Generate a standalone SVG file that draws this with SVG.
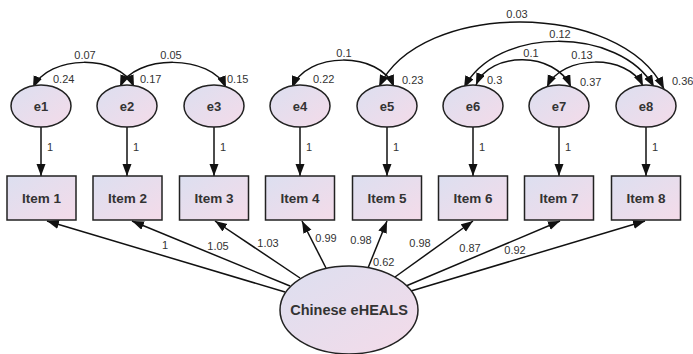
<svg xmlns="http://www.w3.org/2000/svg" width="693" height="354" viewBox="0 0 693 354">
<defs>
<linearGradient id="fillG" x1="0" y1="0" x2="1" y2="1">
<stop offset="0" stop-color="#dcdff0"/>
<stop offset="1" stop-color="#f4dbe9"/>
</linearGradient>
<marker id="ah" markerUnits="userSpaceOnUse" markerWidth="13" markerHeight="10" refX="12" refY="4.5" orient="auto-start-reverse">
<path d="M0,0 L12,4.5 L0,9 z" fill="#111"/>
</marker>
<style>
.node{fill:url(#fillG);stroke:#222;stroke-width:1.5}
.lbl{font-family:"Liberation Sans",Arial,sans-serif;font-weight:bold;fill:#333;text-anchor:middle}
.num{font-family:"Liberation Sans",Arial,sans-serif;font-size:11px;fill:#333}
.c{text-anchor:middle}
.edge{fill:none;stroke:#111;stroke-width:1.5;marker-end:url(#ah)}
.cov{fill:none;stroke:#111;stroke-width:1.5;marker-start:url(#ah);marker-end:url(#ah)}
</style>
</defs>
<rect width="693" height="354" fill="#fff"/>
<g id="connectors">
<line class="edge" x1="41" y1="127" x2="41" y2="176"/>
<line class="edge" x1="127" y1="127" x2="127" y2="176"/>
<line class="edge" x1="214" y1="127" x2="214" y2="176"/>
<line class="edge" x1="300" y1="127" x2="300" y2="176"/>
<line class="edge" x1="387" y1="127" x2="387" y2="176"/>
<line class="edge" x1="473" y1="127" x2="473" y2="176"/>
<line class="edge" x1="559" y1="127" x2="559" y2="176"/>
<line class="edge" x1="646" y1="127" x2="646" y2="176"/>
<line class="edge" x1="285" y1="292" x2="47" y2="221"/>
<line class="edge" x1="290" y1="286" x2="132" y2="221"/>
<line class="edge" x1="300" y1="278" x2="215" y2="221"/>
<line class="edge" x1="326" y1="268" x2="302" y2="221"/>
<line class="edge" x1="368" y1="268" x2="387" y2="221"/>
<line class="edge" x1="395" y1="277" x2="473" y2="221"/>
<line class="edge" x1="406" y1="286" x2="560" y2="221"/>
<line class="edge" x1="411" y1="291" x2="645" y2="221"/>
<path class="cov" d="M33,88 C48,54 120,54 134,87"/>
<path class="cov" d="M120,87 C134,54 212,54 226,88"/>
<path class="cov" d="M292,88 C306,51 380,51 394,87"/>
<path class="cov" d="M379,87 C420,0 620,0 664,89"/>
<path class="cov" d="M464,88 C495,26 620,26 654,87"/>
<path class="cov" d="M476,85 C490,51 555,51 571,87"/>
<path class="cov" d="M547,87 C562,54 628,54 643,86"/>
</g>
<g id="labels">
<text class="num" x="47" y="151">1</text>
<text class="num" x="133" y="151">1</text>
<text class="num" x="220" y="151">1</text>
<text class="num" x="306" y="151">1</text>
<text class="num" x="393" y="151">1</text>
<text class="num" x="479" y="151">1</text>
<text class="num" x="565" y="151">1</text>
<text class="num" x="652" y="151">1</text>
<text class="num c" x="85" y="59">0.07</text>
<text class="num c" x="171" y="59">0.05</text>
<text class="num c" x="344" y="57">0.1</text>
<text class="num c" x="517" y="18">0.03</text>
<text class="num c" x="560" y="38">0.12</text>
<text class="num c" x="531" y="57">0.1</text>
<text class="num c" x="582" y="59">0.13</text>
<text class="num" x="53" y="83">0.24</text>
<text class="num" x="140" y="83">0.17</text>
<text class="num" x="227" y="83">0.15</text>
<text class="num" x="313" y="83">0.22</text>
<text class="num" x="402" y="84">0.23</text>
<text class="num" x="487" y="84">0.3</text>
<text class="num" x="580" y="86">0.37</text>
<text class="num" x="672" y="85">0.36</text>
<text class="num c" x="165" y="249">1</text>
<text class="num c" x="218" y="250">1.05</text>
<text class="num c" x="268" y="247">1.03</text>
<text class="num c" x="326" y="242">0.99</text>
<text class="num c" x="361" y="244">0.98</text>
<text class="num" x="373" y="266">0.62</text>
<text class="num c" x="420" y="247">0.98</text>
<text class="num c" x="470" y="252">0.87</text>
<text class="num c" x="515" y="254">0.92</text>
</g>
<g id="e1"><ellipse class="node" cx="41" cy="106" rx="30" ry="21"/><text class="lbl" x="41" y="111" font-size="13">e1</text></g>
<g id="e2"><ellipse class="node" cx="127" cy="106" rx="30" ry="21"/><text class="lbl" x="127" y="111" font-size="13">e2</text></g>
<g id="e3"><ellipse class="node" cx="214" cy="106" rx="30" ry="21"/><text class="lbl" x="214" y="111" font-size="13">e3</text></g>
<g id="e4"><ellipse class="node" cx="300" cy="106" rx="30" ry="21"/><text class="lbl" x="300" y="111" font-size="13">e4</text></g>
<g id="e5"><ellipse class="node" cx="387" cy="106" rx="30" ry="21"/><text class="lbl" x="387" y="111" font-size="13">e5</text></g>
<g id="e6"><ellipse class="node" cx="473" cy="106" rx="30" ry="21"/><text class="lbl" x="473" y="111" font-size="13">e6</text></g>
<g id="e7"><ellipse class="node" cx="559" cy="106" rx="30" ry="21"/><text class="lbl" x="559" y="111" font-size="13">e7</text></g>
<g id="e8"><ellipse class="node" cx="646" cy="106" rx="30" ry="21"/><text class="lbl" x="646" y="111" font-size="13">e8</text></g>
<g id="item1"><rect class="node" x="7" y="176" width="69" height="44"/><text class="lbl" x="41.5" y="203" font-size="13.5">Item 1</text></g>
<g id="item2"><rect class="node" x="93" y="176" width="69" height="44"/><text class="lbl" x="127.5" y="203" font-size="13.5">Item 2</text></g>
<g id="item3"><rect class="node" x="179.5" y="176" width="69" height="44"/><text class="lbl" x="214" y="203" font-size="13.5">Item 3</text></g>
<g id="item4"><rect class="node" x="265.5" y="176" width="69" height="44"/><text class="lbl" x="300" y="203" font-size="13.5">Item 4</text></g>
<g id="item5"><rect class="node" x="352.5" y="176" width="69" height="44"/><text class="lbl" x="387" y="203" font-size="13.5">Item 5</text></g>
<g id="item6"><rect class="node" x="438.5" y="176" width="69" height="44"/><text class="lbl" x="473" y="203" font-size="13.5">Item 6</text></g>
<g id="item7"><rect class="node" x="524.5" y="176" width="69" height="44"/><text class="lbl" x="559" y="203" font-size="13.5">Item 7</text></g>
<g id="item8"><rect class="node" x="611.5" y="176" width="69" height="44"/><text class="lbl" x="646" y="203" font-size="13.5">Item 8</text></g>
<g id="eheals"><ellipse class="node" cx="349" cy="310" rx="69" ry="44"/><text class="lbl" x="349" y="315" font-size="14.5">Chinese eHEALS</text></g>
</svg>
